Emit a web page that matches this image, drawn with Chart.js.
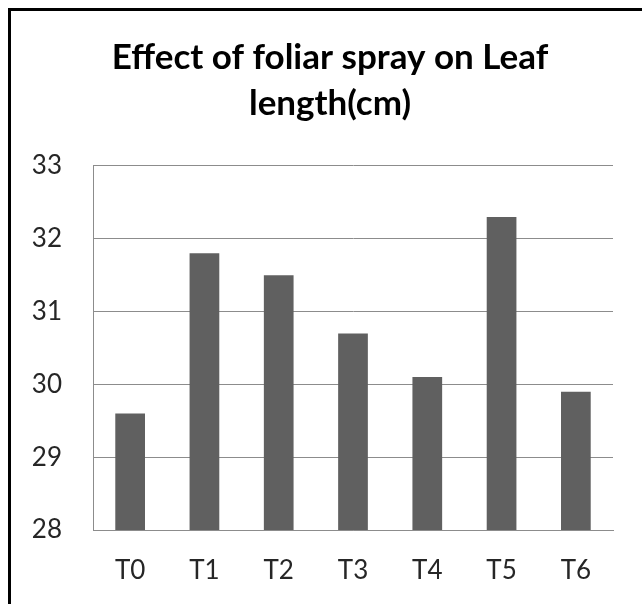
<!DOCTYPE html>
<html>
<head>
<meta charset="utf-8">
<script src="https://cdn.jsdelivr.net/npm/chart.js@4/dist/chart.umd.min.js"></script>
<style>
  html, body { margin: 0; padding: 0; background: #fff; }
  body { width: 642px; height: 604px; position: relative; overflow: hidden; }
  #frame { position: absolute; left: 8px; top: 8px; width: 700px; height: 700px; border: 3px solid #000; box-sizing: border-box; }
  #wrap { position: absolute; left: 0; top: 0; width: 642px; height: 604px; }
</style>
</head>
<body>
<div id="frame"></div>
<div id="wrap"><canvas id="c" width="642" height="604"></canvas></div>
<script>
const categories = ["T0", "T1", "T2", "T3", "T4", "T5", "T6"];
const leafLength = [29.6, 31.8, 31.5, 30.7, 30.1, 32.3, 29.9];
const titleLines = ["Effect of foliar spray on Leaf", "length(cm)"];
const yMin = 28, yMax = 33, yStep = 1;

const axisGray = "#8c8c8c";
const textColor = "#262626";

const titleShift = {
  id: "titleShift",
  afterLayout(chart) {
    const t = chart.titleBlock;
    if (t) { t.left = 47; t.right = 613; t.width = 566; }
  }
};

new Chart(document.getElementById("c"), {
  type: "bar",
  data: {
    labels: categories,
    datasets: [{
      data: leafLength,
      backgroundColor: "#606060",
      borderWidth: 0,
      categoryPercentage: 1.0,
      barPercentage: 0.4
    }]
  },
  plugins: [titleShift],
  options: {
    responsive: false,
    animation: false,
    devicePixelRatio: 1,
    layout: { padding: { left: 0, right: 29, top: 0, bottom: 0 } },
    plugins: {
      legend: { display: false },
      tooltip: { enabled: false },
      title: {
        display: true,
        text: titleLines,
        color: "#000",
        font: { family: "Lato", size: 35, weight: "bold", lineHeight: 1.314 },
        padding: { top: 35, bottom: 39 }
      }
    },
    scales: {
      x: {
        grid: { display: false, drawTicks: false },
        border: { display: true, color: axisGray, width: 1 },
        ticks: { color: textColor, font: { family: "Lato", size: 26 }, padding: 25 },
        afterFit: (s) => { s.height = 74; }
      },
      y: {
        min: yMin, max: yMax,
        grid: { color: axisGray, lineWidth: 1, drawTicks: false },
        border: { display: true, color: axisGray, width: 1 },
        ticks: { stepSize: yStep, color: textColor, font: { family: "Lato", size: 26 }, padding: 31 },
        afterFit: (s) => { s.width = 93; }
      }
    }
  }
});
</script>
</body>
</html>
